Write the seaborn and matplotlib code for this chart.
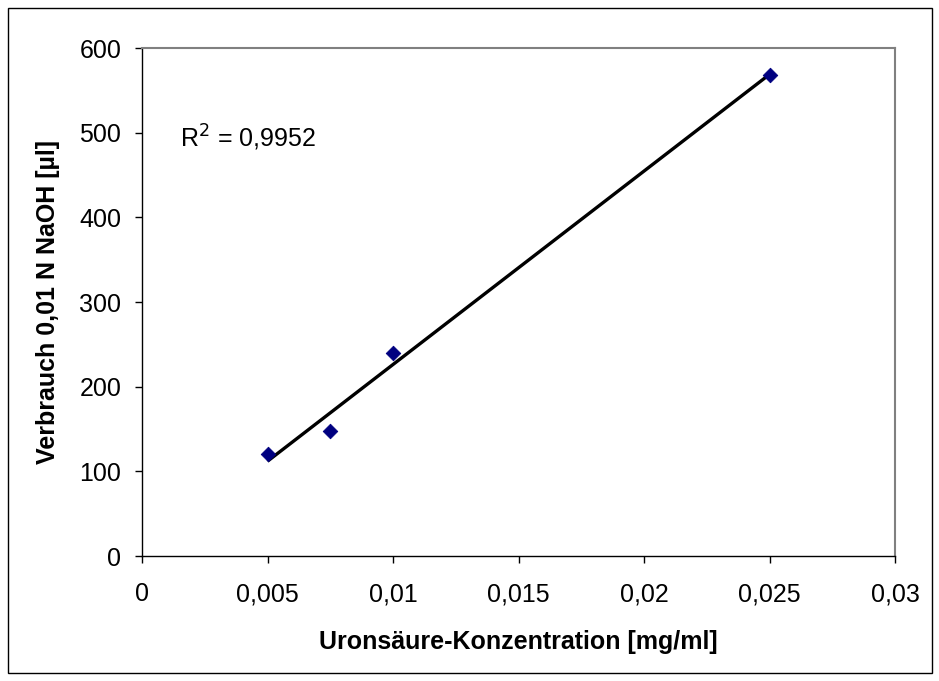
import matplotlib
matplotlib.use("Agg")
import matplotlib.pyplot as plt
import seaborn as sns
import pandas as pd

# values
konzentration = [0.005, 0.0075, 0.01, 0.025]
verbrauch = [120, 148, 240, 568]
x_ticks = [0, 0.005, 0.01, 0.015, 0.02, 0.025, 0.03]
x_tick_labels = ["0", "0,005", "0,01", "0,015", "0,02", "0,025", "0,03"]
y_ticks = [0, 100, 200, 300, 400, 500, 600]
r2_text = "0,9952"

df = pd.DataFrame({"konz": konzentration, "verbrauch": verbrauch})

sns.set_style("white")
plt.rcParams["font.family"] = ["Liberation Sans", "DejaVu Sans"]
plt.rcParams["text.color"] = "black"
plt.rcParams["axes.labelcolor"] = "black"
plt.rcParams["xtick.color"] = "black"
plt.rcParams["ytick.color"] = "black"

fig = plt.figure(figsize=(9.39, 6.81), dpi=100)
ax = fig.add_axes([142 / 939, 125 / 681, 753 / 939, 508 / 681])

# linear trendline over the data range
sns.regplot(
    data=df, x="konz", y="verbrauch", ax=ax,
    ci=None, truncate=True, scatter=False,
    line_kws=dict(color="black", lw=2.4, solid_capstyle="butt"),
)
# data points as navy diamonds
sns.scatterplot(
    data=df, x="konz", y="verbrauch", ax=ax,
    marker="D", s=55, color="#000080", edgecolor="#000080", zorder=3,
)

ax.set_xlim(0, 0.03)
ax.set_ylim(0, 600)
ax.set_xticks(x_ticks)
ax.set_xticklabels(x_tick_labels)
ax.set_yticks(y_ticks)
ax.tick_params(axis="both", direction="out", length=5, width=1,
               color="black", labelcolor="black", labelsize=18,
               bottom=True, left=True)
ax.tick_params(axis="x", pad=14)
ax.tick_params(axis="y", pad=10)

for side in ["left", "bottom"]:
    ax.spines[side].set_color("black")
    ax.spines[side].set_linewidth(1)
for side in ["top", "right"]:
    ax.spines[side].set_color("#808080")
    ax.spines[side].set_linewidth(1.5)

ax.set_xlabel("Uronsäure-Konzentration [mg/ml]", fontsize=18,
              fontweight="bold", labelpad=17)
ax.set_ylabel("Verbrauch 0,01 N NaOH [µl]", fontsize=18,
              fontweight="bold", labelpad=14)

ax.text(0.0015, 494, "R$^2$ = " + r2_text, fontsize=18, va="center",
        ha="left")

# outer chart border
fig.patches.append(plt.Rectangle((8 / 939, 8 / 681), 924 / 939, 665 / 681,
                                 transform=fig.transFigure, fill=False,
                                 edgecolor="black", lw=1))

fig.savefig("out.png", dpi=100)
